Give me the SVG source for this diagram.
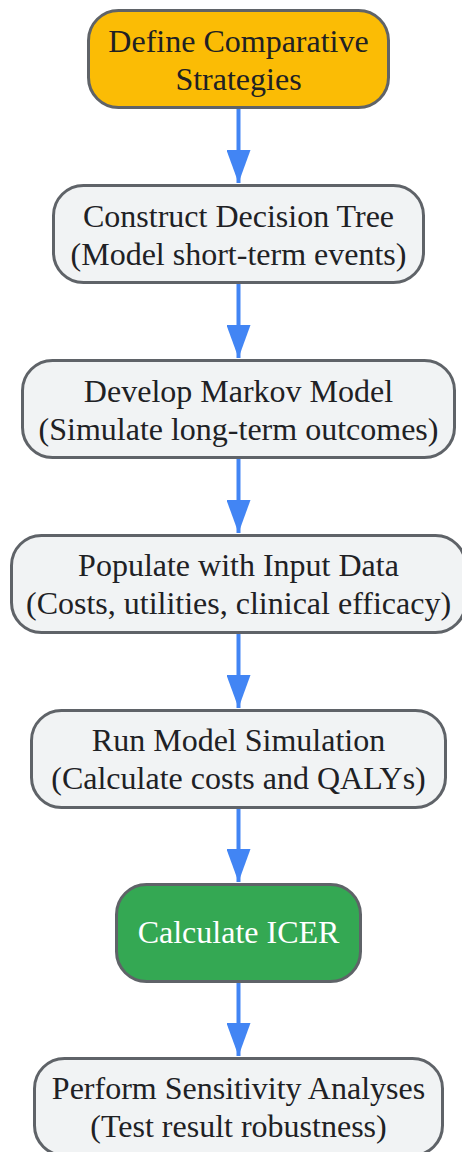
<svg xmlns="http://www.w3.org/2000/svg" width="462" height="1152" viewBox="0 0 462 1152">
<style>
.n{fill:#F1F3F4;stroke:#5F6368;stroke-width:3}
.t{font-family:"Liberation Serif",serif;font-size:32px;fill:#202124;text-anchor:middle}
.w{fill:#FFFFFF}
.e{stroke:#4285F4;stroke-width:4;fill:none}
</style>
<defs>
<marker id="ah" viewBox="0 0 33 24" refX="33" refY="12" markerWidth="33" markerHeight="24" markerUnits="userSpaceOnUse" orient="auto">
<path d="M0,0 L33,12 L0,24 Z" fill="#4285F4"/>
</marker>
</defs>
<rect width="462" height="1152" fill="#FFFFFF"/>
<g id="connectors">
<line class="e" x1="238.5" y1="109" x2="238.5" y2="183" marker-end="url(#ah)"/>
<line class="e" x1="238.5" y1="284" x2="238.5" y2="358" marker-end="url(#ah)"/>
<line class="e" x1="238.5" y1="459" x2="238.5" y2="533" marker-end="url(#ah)"/>
<line class="e" x1="238.5" y1="634" x2="238.5" y2="708" marker-end="url(#ah)"/>
<line class="e" x1="238.5" y1="809" x2="238.5" y2="882" marker-end="url(#ah)"/>
<line class="e" x1="238.5" y1="983" x2="238.5" y2="1056" marker-end="url(#ah)"/>
</g>
<g id="n1">
<rect x="88.5" y="10.5" width="300" height="97" rx="30" fill="#FBBC05" stroke="#5F6368" stroke-width="3"/>
<text class="t" x="238.5" y="52">Define Comparative</text>
<text class="t" x="238.5" y="90">Strategies</text>
</g>
<g id="n2">
<rect class="n" x="53.5" y="185.5" width="370" height="97" rx="30"/>
<text class="t" x="238.5" y="227">Construct Decision Tree</text>
<text class="t" x="238.5" y="265">(Model short-term events)</text>
</g>
<g id="n3">
<rect class="n" x="22.5" y="360.5" width="432" height="97" rx="30"/>
<text class="t" x="238.5" y="402">Develop Markov Model</text>
<text class="t" x="238.5" y="440">(Simulate long-term outcomes)</text>
</g>
<g id="n4">
<rect class="n" x="11.5" y="535.5" width="454" height="97" rx="30"/>
<text class="t" x="238.5" y="576">Populate with Input Data</text>
<text class="t" x="238.5" y="614">(Costs, utilities, clinical efficacy)</text>
</g>
<g id="n5">
<rect class="n" x="31.5" y="710.5" width="414" height="97" rx="30"/>
<text class="t" x="238.5" y="751">Run Model Simulation</text>
<text class="t" x="238.5" y="789">(Calculate costs and QALYs)</text>
</g>
<g id="n6">
<rect x="116.5" y="884.5" width="244" height="97" rx="30" fill="#34A853" stroke="#5F6368" stroke-width="3"/>
<text class="t w" x="238.5" y="943">Calculate ICER</text>
</g>
<g id="n7">
<rect class="n" x="34.5" y="1058.5" width="408" height="97" rx="30"/>
<text class="t" x="238.5" y="1099">Perform Sensitivity Analyses</text>
<text class="t" x="238.5" y="1137">(Test result robustness)</text>
</g>
</svg>
